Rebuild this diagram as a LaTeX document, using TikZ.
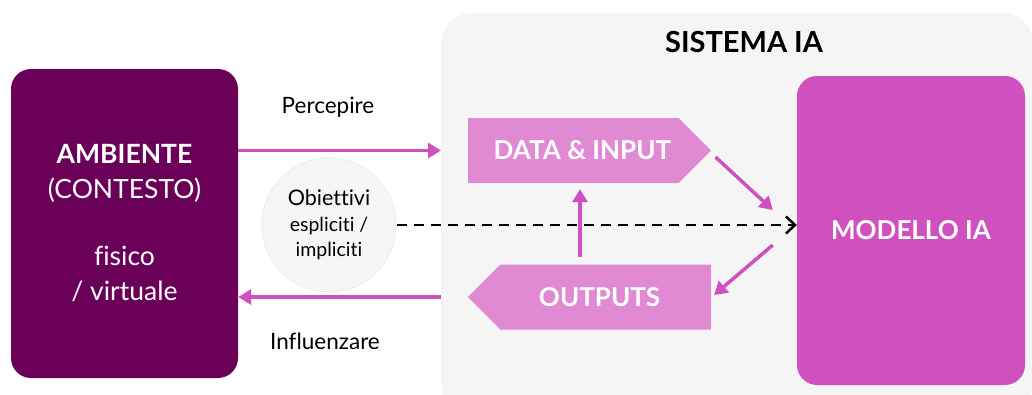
\documentclass[tikz,border=0pt]{standalone}
\usepackage{fontspec}
\setmainfont{Lato}[Ligatures={NoCommon}]
\usetikzlibrary{arrows.meta,shapes.symbols}
\definecolor{envpurple}{RGB}{106,0,88}
\definecolor{modelpink}{RGB}{207,80,190}
\definecolor{lightpink}{RGB}{224,138,212}
\definecolor{arrowpink}{RGB}{208,80,192}
\definecolor{sysgray}{RGB}{245,245,245}
\definecolor{goalgray}{RGB}{246,246,246}
\definecolor{goalline}{RGB}{236,236,236}
\tikzset{
  bigbox/.style={rounded corners=20pt, minimum width=227pt, minimum height=309pt,
    inner sep=0pt, text=white, align=center},
  flowshape/.style={signal, signal pointer angle=90, fill=lightpink, text=white,
    inner sep=0pt, minimum width=243pt, minimum height=65pt,
    font=\fontsize{26}{30}\selectfont\bfseries},
  pinkarrow/.style={draw=arrowpink, line width=3.5pt,
    -{Triangle[length=13pt,width=15pt]}},
  goalarrow/.style={draw=black, line width=2.5pt, dash pattern=on 10pt off 7pt,
    -{Straight Barb[length=9pt,width=17pt,line width=2.5pt]}},
  edgelabel/.style={font=\fontsize{22.5}{26}\selectfont, text=black}
}
\begin{document}
\begin{tikzpicture}[x=1pt,y=-1pt]
\useasboundingbox (0,0) rectangle (1032,394);
\clip (0,0) rectangle (1032,394);

% AI system panel
\node[fill=sysgray, rounded corners=30pt, minimum width=592pt, minimum height=400pt,
  inner sep=0pt, anchor=north west] (sys) at (441,13) {};
\node[font=\fontsize{29}{32}\selectfont\bfseries] (title) at (744,42) {SISTEMA IA};

% environment
\node[bigbox, fill=envpurple, font=\fontsize{26.5}{35}\selectfont] (amb) at (124.5,223.5)
  {\textbf{AMBIENTE}\\(CONTESTO)\\[32pt]fisico\\/ virtuale};

% model
\node[bigbox, fill=modelpink, minimum width=228pt, font=\fontsize{26}{30}\selectfont\bfseries]
  (model) at (911,230.5) {MODELLO IA};

% data and outputs (padding nudges the labels off the shape centre)
\node[flowshape, signal to=east, anchor=west] (data) at (468,150.5)
  {\hspace*{18pt}DATA \& INPUT};
\node[flowshape, signal to=west, anchor=east] (out) at (711,297)
  {OUTPUTS\hspace*{12pt}};

% objectives
\node[circle, fill=goalgray, draw=goalline, line width=1pt, minimum size=134pt,
  inner sep=0pt, align=center, font=\fontsize{19.5}{25.5}\selectfont] (goal) at (329,225)
  {{\fontsize{21.5}{25.5}\selectfont Obiettivi}\\espliciti /\\impliciti};

% connectors
\draw[pinkarrow] (amb.east |- data.west) -- (sys.west |- data.west);
\draw[pinkarrow] (sys.west |- out.west) -- (amb.east |- out.west);
\node[edgelabel] (perc) at (328,107) {Percepire};
\node[edgelabel] (infl) at (325,341) {Influenzare};

\coordinate (vx) at (580,0);
\draw[pinkarrow] ([yshift=7]out.north -| vx) -- ([yshift=-6]data.south -| vx);
\draw[pinkarrow] ([shift={(4,6.5)}]data.east) -- ([shift={(-24,-20.5)}]model.west);
\draw[pinkarrow] ([shift={(-24,14.5)}]model.west) -- ([shift={(3,-2)}]out.east);

\draw[goalarrow] (goal.east) -- (model.west |- goal.east);
\end{tikzpicture}
\end{document}
